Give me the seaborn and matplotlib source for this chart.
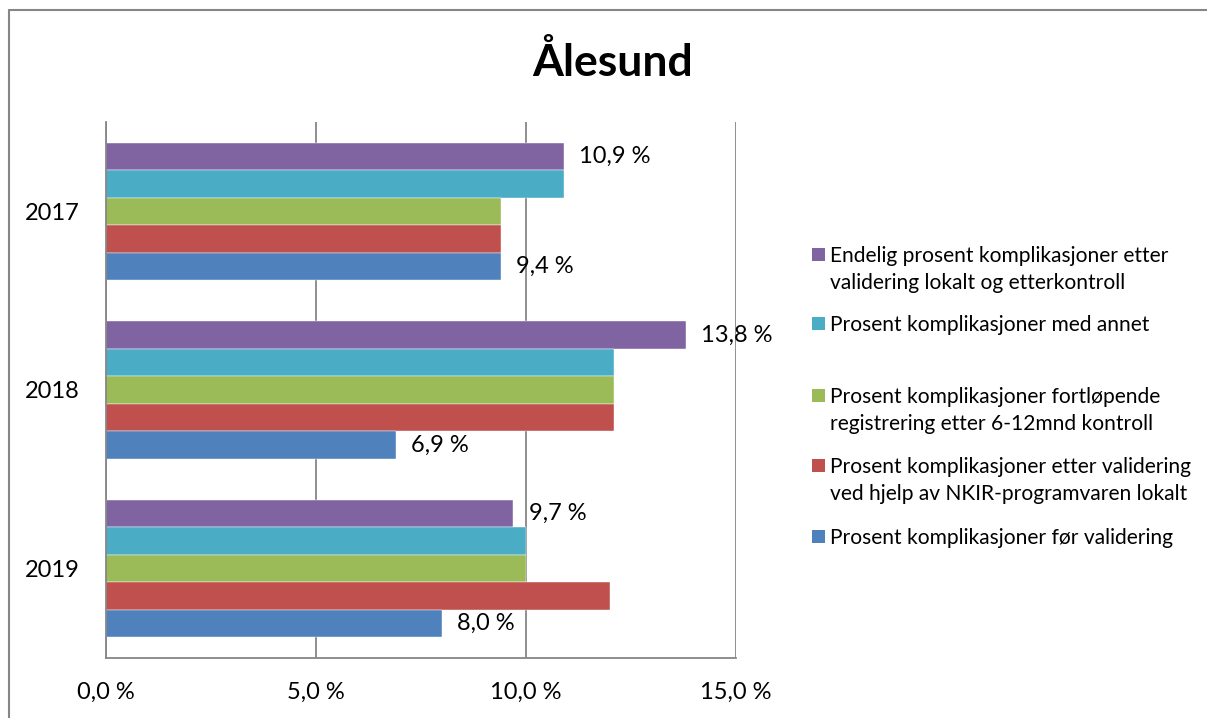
import matplotlib
matplotlib.use("Agg")
import matplotlib.pyplot as plt
from matplotlib.lines import Line2D
from matplotlib.patches import Rectangle
from matplotlib.ticker import FuncFormatter, MultipleLocator
import seaborn as sns
import pandas as pd

# --- data -------------------------------------------------------------
years = ["2017", "2018", "2019"]

series_names = [
    "Endelig prosent komplikasjoner etter\nvalidering lokalt og etterkontroll",
    "Prosent komplikasjoner med annet",
    "Prosent komplikasjoner fortløpende\nregistrering etter 6-12mnd kontroll",
    "Prosent komplikasjoner etter validering\nved hjelp av NKIR-programvaren lokalt",
    "Prosent komplikasjoner før validering",
]

endelig = [10.9, 13.8, 9.7]
med_annet = [10.9, 12.1, 10.0]
fortlopende = [9.4, 12.1, 10.0]
etter_validering = [9.4, 12.1, 12.0]
for_validering = [9.4, 6.9, 8.0]

series_values = [endelig, med_annet, fortlopende, etter_validering, for_validering]
series_colors = ["#8064A2", "#4BACC6", "#9BBB59", "#C0504D", "#4F81BD"]

title = "Ålesund"

# --- long table for seaborn --------------------------------------------
rows = []
for name, vals in zip(series_names, series_values):
    for y, v in zip(years, vals):
        rows.append({"year": y, "value": v, "series": name})
df = pd.DataFrame(rows)

# --- style ------------------------------------------------------------
sns.set_theme(style="white")
plt.rcParams["font.family"] = ["Lato", "DejaVu Sans"]
grey = "#868686"

W, H, DPI = 1207, 718, 100
fig = plt.figure(figsize=(W / DPI, H / DPI), dpi=DPI)
fig.patch.set_facecolor("white")


def px_x(x):
    return x / W


def px_y(y):
    return 1 - y / H


ax = fig.add_axes([px_x(105.7), px_y(658), px_x(736) - px_x(105.7), px_y(122) - px_y(658)])

sns.barplot(
    data=df, y="year", x="value", hue="series",
    order=years, hue_order=series_names, palette=series_colors,
    orient="h", width=0.77, gap=0, saturation=1, legend=False,
    edgecolor="white", linewidth=0.3, ax=ax, errorbar=None,
)

ax.set_xlim(0, 15)
ax.xaxis.set_major_locator(MultipleLocator(5))
ax.xaxis.set_major_formatter(FuncFormatter(lambda v, _: f"{v:.1f} %".replace(".", ",")))
ax.set_xlabel("")
ax.set_ylabel("")
ax.grid(axis="x", color=grey, linewidth=1.3)
ax.grid(axis="y", visible=False)
ax.set_axisbelow(True)
for side in ["top", "right"]:
    ax.spines[side].set_visible(False)
for side in ["left", "bottom"]:
    ax.spines[side].set_color(grey)
    ax.spines[side].set_linewidth(1.3)
ax.tick_params(axis="x", length=0, pad=17, labelsize=17, labelcolor="black")
ax.tick_params(axis="y", length=0, pad=19, labelsize=17, labelcolor="black")

# value labels on the first and last series
for idx in (0, len(series_names) - 1):
    cont = ax.containers[idx]
    labels = [f"{v:.1f} %".replace(".", ",") for v in series_values[idx]]
    ax.bar_label(cont, labels=labels, padding=11, fontsize=17, color="black")

# --- title ------------------------------------------------------------
fig.text(px_x(612.5), px_y(76), title, ha="center", va="baseline",
         fontsize=32, fontweight="bold", color="black")

# --- legend -----------------------------------------------------------
legend_swatch_y = [254.5, 323.5, 395.5, 465.5, 536.5]
line_gap = 27
for name, col, yc in zip(series_names, series_colors, legend_swatch_y):
    fig.patches.append(Rectangle((px_x(812), px_y(yc + 6.5)), px_x(13), 13 / H,
                                 transform=fig.transFigure, facecolor=col,
                                 edgecolor="none"))
    for k, line in enumerate(name.split("\n")):
        fig.text(px_x(830.5), px_y(yc + 7.5 + k * line_gap), line,
                 ha="left", va="baseline", fontsize=15.1, color="black")

# --- chart frame ------------------------------------------------------
fig.add_artist(Line2D([px_x(9), px_x(9)], [0, px_y(10)], transform=fig.transFigure,
                      color=grey, linewidth=1.5))
fig.add_artist(Line2D([px_x(9), 1], [px_y(10), px_y(10)], transform=fig.transFigure,
                      color=grey, linewidth=1.5))

fig.savefig("out.png", dpi=DPI)
